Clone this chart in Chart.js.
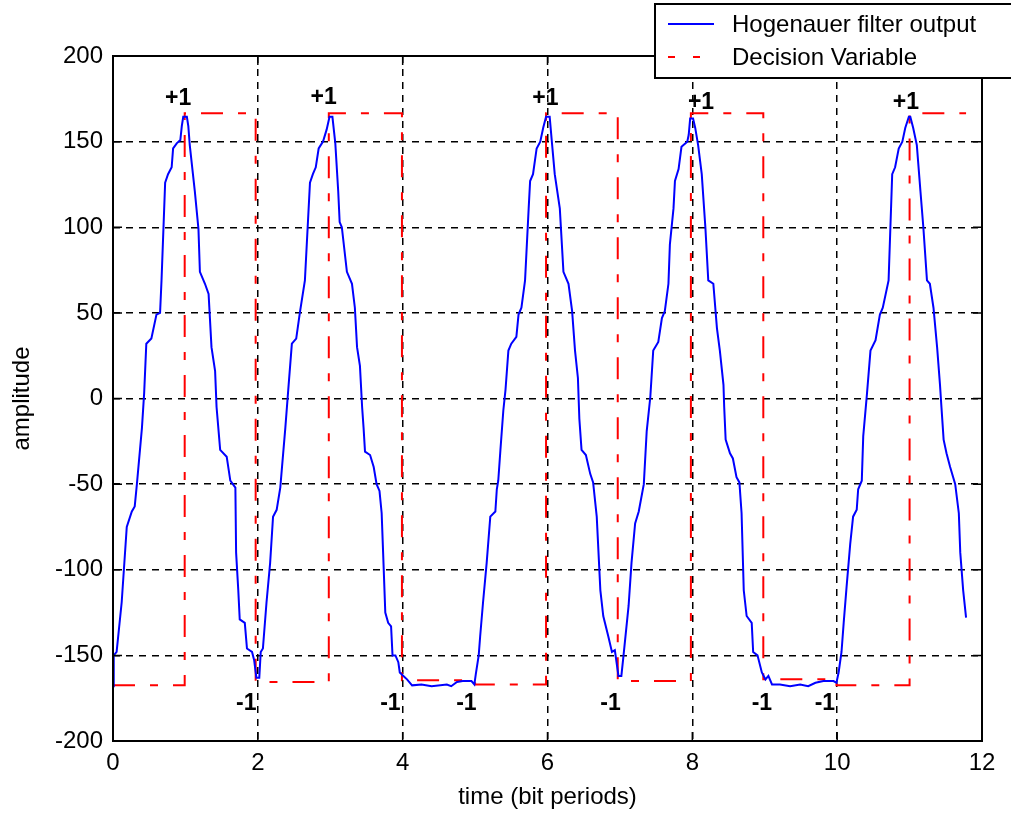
<!DOCTYPE html>
<html>
<head>
<meta charset="utf-8">
<script src="https://cdn.jsdelivr.net/npm/chart.js@4"></script>
<style>
  html, body { margin: 0; padding: 0; background: #fff; }
</style>
</head>
<body>
<canvas id="myChart" width="1011" height="816"></canvas>
<script>
// Hogenauer filter output (time in bit periods, amplitude)
var filterTime = [
  0.00, 0.01, 0.05, 0.12, 0.19, 0.26, 0.30, 0.33, 0.40, 0.43, 0.46, 0.53, 0.60, 0.65, 0.67, 0.72, 0.76, 0.81, 0.83, 0.88,
  0.93, 0.95, 0.97, 1.02, 1.04, 1.06, 1.13, 1.18, 1.20, 1.27, 1.32, 1.36, 1.41, 1.43, 1.48, 1.57, 1.62, 1.69, 1.70, 1.73,
  1.75, 1.82, 1.85, 1.92, 1.95, 1.98, 2.02, 2.04, 2.07, 2.12, 2.17, 2.21, 2.26, 2.31, 2.33, 2.38, 2.42, 2.47, 2.53, 2.58,
  2.65, 2.72, 2.76, 2.80, 2.84, 2.90, 2.95, 2.99, 3.03, 3.07, 3.11, 3.13, 3.16, 3.23, 3.30, 3.34, 3.37, 3.41, 3.44, 3.46,
  3.48, 3.55, 3.60, 3.64, 3.68, 3.71, 3.73, 3.76, 3.80, 3.84, 3.86, 3.90, 3.94, 3.96, 4.01, 4.06, 4.13, 4.26, 4.40, 4.61,
  4.67, 4.75, 4.83, 4.95, 4.99, 5.01, 5.05, 5.07, 5.11, 5.16, 5.21, 5.28, 5.30, 5.32, 5.35, 5.39, 5.42, 5.46, 5.50, 5.57,
  5.60, 5.64, 5.69, 5.74, 5.76, 5.80, 5.85, 5.90, 5.94, 5.98, 6.03, 6.06, 6.10, 6.17, 6.22, 6.29, 6.34, 6.38, 6.42, 6.44,
  6.47, 6.53, 6.59, 6.63, 6.68, 6.73, 6.77, 6.84, 6.89, 6.93, 6.98, 7.02, 7.05, 7.12, 7.16, 7.21, 7.26, 7.33, 7.37, 7.42,
  7.46, 7.53, 7.58, 7.62, 7.67, 7.69, 7.74, 7.76, 7.81, 7.85, 7.93, 7.95, 7.97, 8.01, 8.04, 8.08, 8.13, 8.18, 8.22, 8.29,
  8.34, 8.38, 8.43, 8.44, 8.46, 8.52, 8.56, 8.61, 8.65, 8.68, 8.71, 8.75, 8.82, 8.84, 8.90, 8.96, 9.01, 9.05, 9.10, 9.21,
  9.35, 9.49, 9.60, 9.70, 9.81, 9.95, 9.99, 10.02, 10.06, 10.09, 10.13, 10.18, 10.22, 10.27, 10.29, 10.34, 10.36, 10.41, 10.46, 10.53,
  10.59, 10.63, 10.71, 10.76, 10.80, 10.85, 10.90, 10.94, 10.99, 11.01, 11.05, 11.10, 11.15, 11.19, 11.24, 11.28, 11.33, 11.38, 11.42, 11.44,
  11.47, 11.51, 11.56, 11.63, 11.68, 11.70, 11.74, 11.78
];
var filterValue = [
  -168, -150, -148, -119, -75, -66, -63, -50, -17, 3, 32, 35, 49, 50, 69, 126, 131, 135, 146, 149,
  151, 159, 164.5, 164.5, 159, 148, 121, 99, 74, 67, 61, 30, 16, -5, -30, -34, -48, -52, -90, -112,
  -129, -131, -146, -148, -153, -163, -163, -148, -146, -119, -96, -69, -65, -52, -42, -17, 5, 32, 35, 50,
  69, 126, 131, 135, 146, 150, 157, 164.5, 164.5, 149, 121, 103, 100, 74, 67, 53, 30, 19, -5, -17,
  -31, -33, -40, -50, -54, -67, -90, -125, -131, -133, -150, -150, -154, -160, -162, -164, -167.5, -167, -168, -167,
  -168, -165.5, -165, -165, -167, -161, -150, -139, -119, -96, -69, -66, -53, -48, -30, -7, 5, 28, 32, 36,
  49, 53, 69, 111, 127, 131, 146, 150, 158, 164.5, 164.5, 150, 131, 111, 74, 67, 51, 28, 12, -12,
  -30, -33, -44, -49, -69, -112, -127, -139, -148, -147, -162, -162, -150, -121, -96, -73, -66, -50, -19, 1,
  28, 33, 47, 51, 67, 90, 111, 127, 134, 147, 150, 154, 163.5, 163.5, 158, 148, 131, 100, 69, 67,
  41, 28, 8, -5, -24, -32, -35, -46, -49, -67, -112, -127, -131, -148, -150, -160, -164, -162, -167, -167,
  -168, -167, -168, -166, -165, -165, -166, -160, -148, -131, -110, -85, -69, -65, -53, -48, -22, 2, 28, 34,
  49, 53, 69, 131, 135, 146, 150, 158, 164.5, 164.5, 158, 148, 121, 100, 69, 67, 53, 30, 8, -5,
  -24, -32, -40, -50, -67, -90, -112, -128
];

// decision variable: value held from each time until the next one
var decisionTime = [0, 0.99, 1.97, 2.98, 3.99, 5.0, 5.98, 6.97, 7.98, 8.98, 9.99, 11.0, 11.78];
var decisionValue = [-167.5, 166.5, -165.5, 166.5, -164.5, -167, 166.5, -165, 166.5, -164, -167.5, 166.5, 166.5];

// bit decisions written on the plot
var bitText = ['+1', '+1', '+1', '+1', '+1', '-1', '-1', '-1', '-1', '-1', '-1'];
var bitTime = [0.90, 2.91, 5.97, 8.12, 10.95, 1.84, 3.83, 4.88, 6.87, 8.96, 9.83];
var bitValue = [175, 175.5, 175, 173, 173, -178, -178, -178, -178, -178, -178];

var xTicks = [0, 2, 4, 6, 8, 10, 12];
var yTicks = [-200, -150, -100, -50, 0, 50, 100, 150, 200];

var tickFont = { family: "'Liberation Sans', Arial, sans-serif", size: 24 };

function toPoints(xs, ys) {
  return xs.map(function (x, i) {
    return { x: x, y: ys[i] };
  });
}

var matlabLook = {
  id: 'matlabLook',
  afterDatasetsDraw: function (chart) {
    var ctx = chart.ctx;
    var xs = chart.scales.x, ys = chart.scales.y;
    ctx.save();
    ctx.fillStyle = '#000';
    ctx.font = "bold 23px 'Liberation Sans', Arial, sans-serif";
    ctx.textAlign = 'center';
    ctx.textBaseline = 'middle';
    for (var i = 0; i < bitText.length; i++) {
      ctx.fillText(bitText[i], xs.getPixelForValue(bitTime[i]), ys.getPixelForValue(bitValue[i]));
    }
    ctx.restore();
  },
  afterDraw: function (chart) {
    var ctx = chart.ctx;
    var a = chart.chartArea;
    var xs = chart.scales.x, ys = chart.scales.y;
    ctx.save();
    // axes box
    ctx.strokeStyle = '#000';
    ctx.lineWidth = 2;
    ctx.strokeRect(a.left, a.top, a.right - a.left, a.bottom - a.top);
    // inward tick marks on all four sides
    ctx.lineWidth = 1.5;
    ctx.beginPath();
    xTicks.forEach(function (v) {
      var px = xs.getPixelForValue(v);
      ctx.moveTo(px, a.bottom); ctx.lineTo(px, a.bottom - 9);
      ctx.moveTo(px, a.top); ctx.lineTo(px, a.top + 9);
    });
    yTicks.forEach(function (v) {
      var py = ys.getPixelForValue(v);
      ctx.moveTo(a.left, py); ctx.lineTo(a.left + 9, py);
      ctx.moveTo(a.right, py); ctx.lineTo(a.right - 9, py);
    });
    ctx.stroke();

    // legend box, top right
    var lx = 655, ly = 4, lw = 370, lh = 74;
    ctx.fillStyle = '#fff';
    ctx.fillRect(lx, ly, lw, lh);
    ctx.lineWidth = 2;
    ctx.strokeRect(lx, ly, lw, lh);
    ctx.font = "24px 'Liberation Sans', Arial, sans-serif";
    ctx.textBaseline = 'middle';
    ctx.fillStyle = '#000';
    var ds = chart.data.datasets;
    var rows = [24, 57];
    for (var i = 0; i < ds.length; i++) {
      ctx.beginPath();
      ctx.strokeStyle = ds[i].borderColor;
      ctx.lineWidth = 2;
      ctx.setLineDash(i === 0 ? [] : [7, 18]);
      ctx.moveTo(668, rows[i]);
      ctx.lineTo(714, rows[i]);
      ctx.stroke();
      ctx.setLineDash([]);
      ctx.fillText(ds[i].label, 732, rows[i] + 1);
    }
    ctx.restore();
  }
};

var ctx = document.getElementById('myChart');
var myChart = new Chart(ctx, {
  type: 'line',
  data: {
    datasets: [{
      label: 'Hogenauer filter output',
      data: toPoints(filterTime, filterValue),
      borderColor: '#0000ff',
      borderWidth: 2,
      pointRadius: 0,
      fill: false,
      tension: 0
    },
    {
      label: 'Decision Variable',
      data: toPoints(decisionTime, decisionValue),
      borderColor: '#ff0000',
      borderWidth: 2,
      borderDash: [22, 15, 8, 15],
      pointRadius: 0,
      fill: false,
      stepped: true
    }]
  },
  options: {
    responsive: false,
    animation: false,
    devicePixelRatio: 1,
    layout: { padding: { top: 56, right: 29, left: 0, bottom: 0 } },
    plugins: {
      legend: { display: false },
      tooltip: { enabled: false }
    },
    scales: {
      x: {
        type: 'linear',
        min: 0,
        max: 12,
        afterBuildTicks: function (scale) {
          scale.ticks = xTicks.map(function (v) { return { value: v }; });
        },
        afterFit: function (scale) { scale.height = 75; },
        grid: { color: '#000', lineWidth: 1.5, drawTicks: false },
        border: { display: false, dash: [7, 6] },
        ticks: { color: '#000', font: tickFont, padding: 8, maxRotation: 0 },
        title: { display: true, text: 'time (bit periods)', color: '#000', font: tickFont, padding: { top: 0, bottom: 4 } }
      },
      y: {
        type: 'linear',
        min: -200,
        max: 200,
        afterBuildTicks: function (scale) {
          scale.ticks = yTicks.map(function (v) { return { value: v }; });
        },
        afterFit: function (scale) { scale.width = 113; },
        grid: { color: '#000', lineWidth: 1.5, drawTicks: false },
        border: { display: false, dash: [7, 6] },
        ticks: { color: '#000', font: tickFont, padding: 10 },
        title: { display: true, text: 'amplitude', color: '#000', font: tickFont, padding: { top: 8, bottom: 0 } }
      }
    }
  },
  plugins: [matlabLook]
});
</script>
</body>
</html>
